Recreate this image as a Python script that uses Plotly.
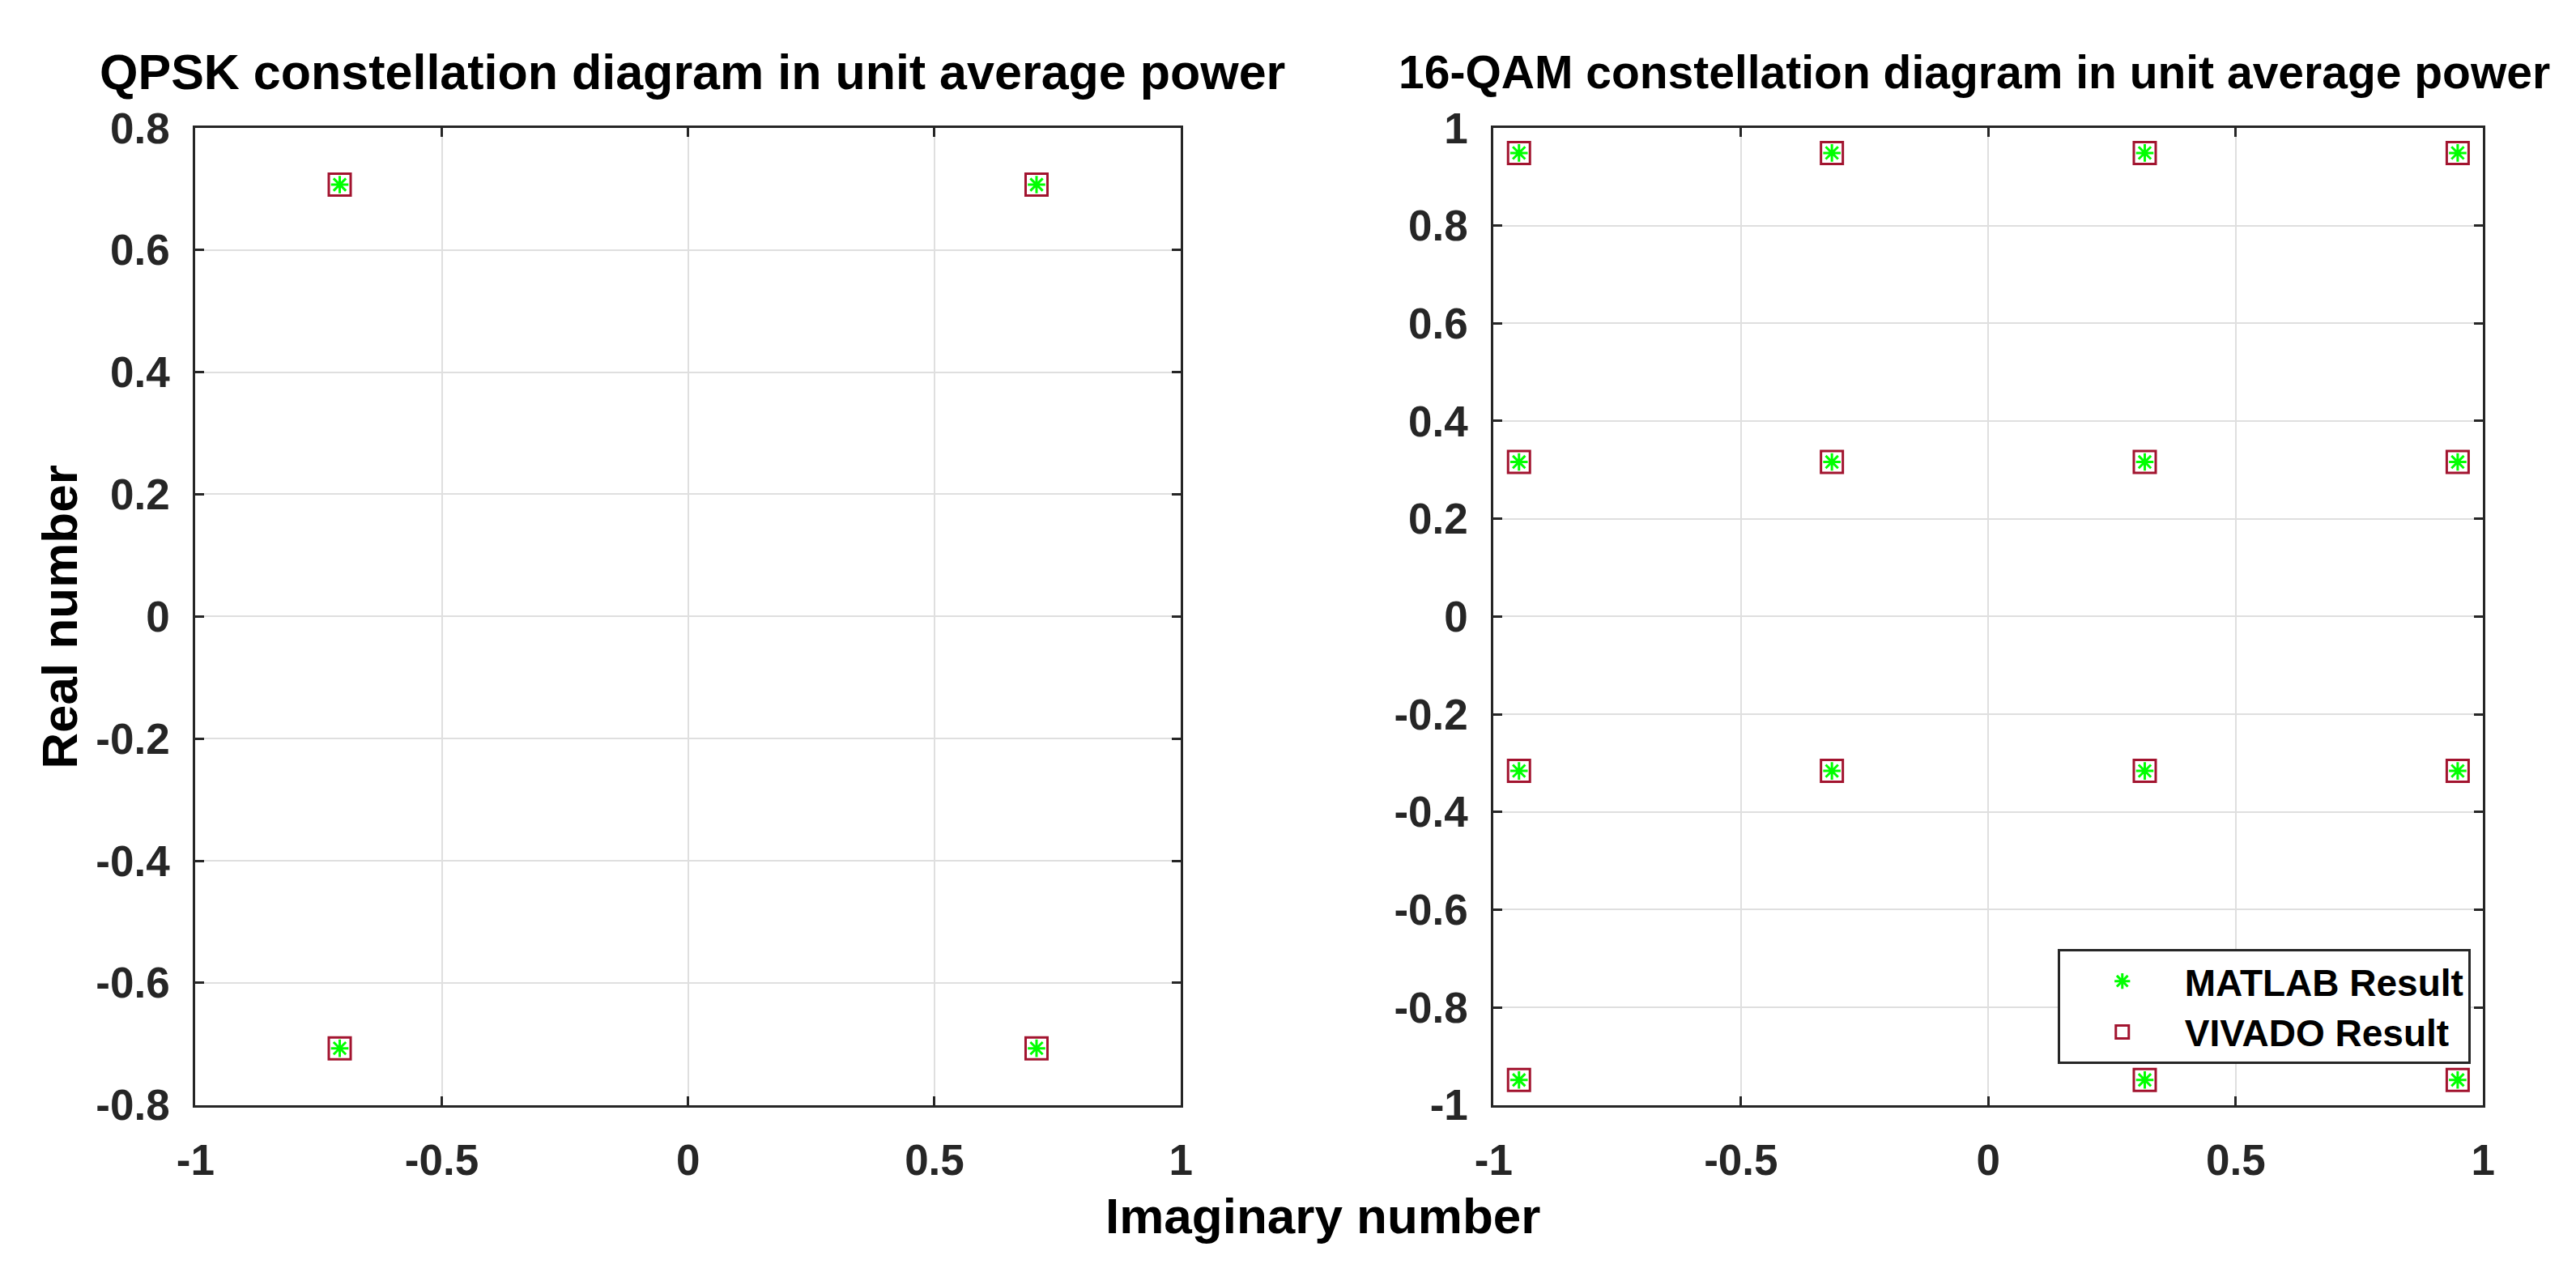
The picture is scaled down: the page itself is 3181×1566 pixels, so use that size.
"""QPSK and 16-QAM constellation diagrams, MATLAB vs VIVADO results."""
import plotly.graph_objects as go

# QPSK constellation points (in-phase on x, quadrature on y)
qpsk_x = [-0.7071, 0.7071, -0.7071, 0.7071]
qpsk_y = [0.7071, 0.7071, -0.7071, -0.7071]

# 16-QAM constellation points visible in the figure
qam_x = [-0.9487, -0.3162, 0.3162, 0.9487,
         -0.9487, -0.3162, 0.3162, 0.9487,
         -0.9487, -0.3162, 0.3162, 0.9487,
         -0.9487, 0.3162, 0.9487]
qam_y = [0.9487, 0.9487, 0.9487, 0.9487,
         0.3162, 0.3162, 0.3162, 0.3162,
         -0.3162, -0.3162, -0.3162, -0.3162,
         -0.9487, -0.9487, -0.9487]

# tick values / labels
x_ticks = [-1, -0.5, 0, 0.5, 1]
x_tick_labels = ["-1", "-0.5", "0", "0.5", "1"]
qpsk_y_ticks = [0.8, 0.6, 0.4, 0.2, 0, -0.2, -0.4, -0.6, -0.8]
qpsk_y_tick_labels = ["0.8", "0.6", "0.4", "0.2", "0", "-0.2", "-0.4", "-0.6", "-0.8"]
qam_y_ticks = [1, 0.8, 0.6, 0.4, 0.2, 0, -0.2, -0.4, -0.6, -0.8, -1]
qam_y_tick_labels = ["1", "0.8", "0.6", "0.4", "0.2", "0", "-0.2", "-0.4", "-0.6", "-0.8", "-1"]

FONT = "Liberation Sans, Arial, sans-serif"
GREEN = "#00FF00"
DARKRED = "#A2142F"
W, H = 3181, 1566

fig = go.Figure()

panels = [
    (qpsk_x, qpsk_y, "x", "y", False),
    (qam_x, qam_y, "x2", "y2", True),
]
for xs, ys, xa, ya, legend in panels:
    fig.add_trace(go.Scatter(
        x=xs, y=ys, xaxis=xa, yaxis=ya,
        mode="markers", name="MATLAB Result", showlegend=legend,
        marker=dict(symbol="asterisk-open", size=18, color=GREEN,
                    line=dict(color=GREEN, width=3)),
        cliponaxis=False,
    ))
    fig.add_trace(go.Scatter(
        x=xs, y=ys, xaxis=xa, yaxis=ya,
        mode="markers", name="VIVADO Result", showlegend=legend,
        marker=dict(symbol="square-open", size=27, color=DARKRED,
                    line=dict(color=DARKRED, width=3)),
        cliponaxis=False,
    ))

axis_style = dict(
    showline=True, linewidth=3, linecolor="#262626", mirror="ticks",
    ticks="inside", ticklen=11, tickwidth=3, tickcolor="#262626",
    showgrid=True, gridcolor="#DFDFDF", gridwidth=2, zeroline=False,
    tickfont=dict(family=FONT, size=53, color="#262626", weight="bold"),
)

y_dom = [1 - 1388 / H, 1 - 134 / H]

fig.update_layout(
    width=W, height=H,
    margin=dict(l=0, r=0, t=0, b=0),
    paper_bgcolor="white", plot_bgcolor="white",
    xaxis=dict(axis_style, domain=[220 / W, 1452 / W], range=[-1, 1],
               tickvals=x_ticks, ticktext=x_tick_labels, ticklabelstandoff=20),
    yaxis=dict(axis_style, domain=y_dom, range=[-0.8, 0.8],
               tickvals=qpsk_y_ticks, ticktext=qpsk_y_tick_labels, ticklabelstandoff=18),
    xaxis2=dict(axis_style, domain=[1843 / W, 3080 / W], range=[-1, 1], anchor="y2",
                tickvals=x_ticks, ticktext=x_tick_labels, ticklabelstandoff=20),
    yaxis2=dict(axis_style, domain=y_dom, range=[-1, 1], anchor="x2",
                tickvals=qam_y_ticks, ticktext=qam_y_tick_labels, ticklabelstandoff=18),
    legend=dict(
        x=2548 / W, y=1 - 1188 / H, xanchor="left", yanchor="top",
        bgcolor="white", bordercolor="#262626", borderwidth=3,
        font=dict(family=FONT, size=46, color="black", weight="bold"),
        itemwidth=144, tracegroupgap=0,
    ),
    showlegend=True,
)

# titles and axis labels: (text, x px, y px, angle, font size)
labels = [
    ("QPSK constellation diagram in unit average power", 841, 62, 0, 61),
    ("16-QAM constellation diagram in unit average power", 2444, 62, 0, 57),
    ("Imaginary number", 1629, 1530, 0, 62),
    ("Real number", 50, 761, -90, 62),
]
for text, x, y, angle, size in labels:
    fig.add_annotation(
        text=text, x=x / W, y=1 - y / H, xref="paper", yref="paper",
        xanchor="center", yanchor="middle", showarrow=False, textangle=angle,
        font=dict(family=FONT, size=size, color="black", weight="bold"),
    )

fig.write_html("out.html", config={"displayModeBar": False},
               post_script="document.body.style.margin='0';")
